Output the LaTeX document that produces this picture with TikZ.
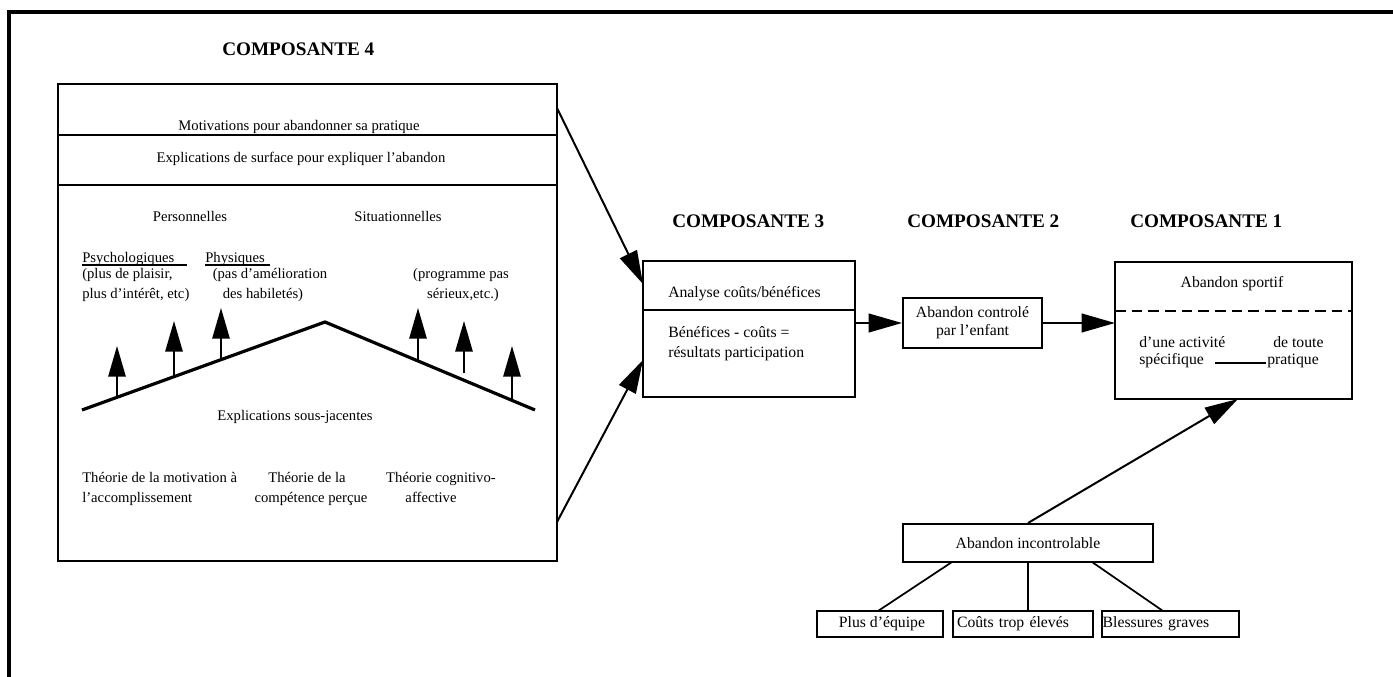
\documentclass[tikz,border=0pt]{standalone}
\usepackage{fontspec}
\setmainfont{Liberation Serif}
\usetikzlibrary{arrows.meta}
\begin{document}
\begin{tikzpicture}[x=0.75pt,y=-0.75pt,
  txt/.style={inner sep=0pt, font=\fontsize{11}{15}\selectfont},
  rtxt/.style={inner sep=0pt, font=\fontsize{11.8}{15}\selectfont},
  hdr/.style={inner sep=0pt, anchor=base west, font=\fontsize{14.4}{16}\selectfont\bfseries},
  box/.style={draw, line width=1.5pt, inner sep=0pt},
  bigarrow/.style={line width=1.5pt, -{Triangle[length=25pt,width=14pt]}},
  uparrow/.style={line width=1.4pt, -{Triangle[length=23pt,width=13pt]}},
  thin/.style={line width=1.3pt},
]
\useasboundingbox (0,0) rectangle (1393,677);
% frame
\draw[line width=2.6pt] (9,677) -- (9,12) -- (1393,12);

% headers
\node[hdr] (h4) at (222,56) {COMPOSANTE 4};
\node[hdr] (h3) at (672,228) {COMPOSANTE 3};
\node[hdr] (h2) at (907,228) {COMPOSANTE 2};
\node[hdr] (h1) at (1130,228) {COMPOSANTE 1};

% left panel (composante 4)
\node[box, minimum width=374.25pt, minimum height=357.75pt] (c4) at (307.5,322.5) {};
\draw[box] (58,135) -- (557,135);
\draw[box] (58,185) -- (557,185);
\node[txt, anchor=mid] (mot) at (299,127) {Motivations pour abandonner sa pratique};
\node[txt, anchor=mid] (surf) at (301,159) {Explications de surface pour expliquer l’abandon};
\node[txt, anchor=mid] (pers) at (190,218) {Personnelles};
\node[txt, anchor=mid] (sit) at (398,218) {Situationnelles};
\node[txt, anchor=mid west] (psy) at (82,259) {Psychologiques};
\draw[thin] (82,265) -- (187,265);
\node[txt, anchor=mid west] (phy) at (205,259) {Physiques};
\draw[thin] (205,265) -- (270,265);
\node[txt, anchor=mid west] (psy1) at (82,275) {(plus de plaisir,};
\node[txt, anchor=mid west] (psy2) at (82,295) {plus d’intérêt, etc)};
\node[txt, anchor=mid] (phy1) at (270,275) {(pas d’amélioration};
\node[txt, anchor=mid] (phy2) at (263,295) {des habiletés)};
\node[txt, anchor=mid] (sit1) at (461,275) {(programme pas};
\node[txt, anchor=mid] (sit2) at (463,295) {sérieux,etc.)};

% mountain
\coordinate (mL) at (82,410);
\coordinate (mP) at (325,322);
\coordinate (mR) at (535,410);
\draw[line width=2.4pt] (mL) -- (mP) -- (mR);
\coordinate (u1a) at (117,398); \coordinate (u1b) at (117,346);
\coordinate (u2a) at (174,377); \coordinate (u2b) at (174,321);
\coordinate (u3a) at (221,360); \coordinate (u3b) at (221,308);
\coordinate (u4a) at (418,362); \coordinate (u4b) at (418,308);
\coordinate (u5a) at (464,373); \coordinate (u5b) at (464,321);
\coordinate (u6a) at (512,400); \coordinate (u6b) at (512,346);
\foreach \i in {1,...,6} \draw[uparrow] (u\i a) -- (u\i b);

\node[txt, anchor=mid] (sous) at (295,417) {Explications sous-jacentes};
\node[txt, anchor=mid west] (t1a) at (82,479) {Théorie de la motivation à};
\node[txt, anchor=mid west] (t1b) at (82,499) {l’accomplissement};
\node[txt, anchor=mid] (t2a) at (307,479) {Théorie de la};
\node[txt, anchor=mid] (t2b) at (311,499) {compétence perçue};
\node[txt, anchor=mid] (t3a) at (441,479) {Théorie cognitivo-};
\node[txt, anchor=mid] (t3b) at (431,499) {affective};

% composante 3
\node[box, minimum width=159pt, minimum height=102pt] (c3) at (749,329) {};
\draw[box] (643,310) -- (855,310);
\node[rtxt, anchor=mid west] (ana) at (668,294) {Analyse coûts/bénéfices};
\node[rtxt, anchor=mid west] (ben1) at (668,334) {Bénéfices - coûts =};
\node[rtxt, anchor=mid west] (ben2) at (668,354) {résultats participation};

% arrows into composante 3
\coordinate (a1s) at (557,108);
\coordinate (a1e) at (643,284);
\coordinate (a2s) at (557,522);
\coordinate (a2e) at (643,360);
\draw[bigarrow] (a1s) -- (a1e);
\draw[bigarrow] (a2s) -- (a2e);

% composante 2
\node[box, minimum width=104.25pt, minimum height=37.5pt, align=center,
      font=\fontsize{11.8}{13.5}\selectfont] (c2) at (972.5,323) {Abandon controlé\\par l’enfant};
\coordinate (c3r) at (855,323);
\draw[bigarrow] (c3r) -- (c2.west);

% composante 1
\node[box, minimum width=177.75pt, minimum height=102.75pt] (c1) at (1233.5,330.5) {};
\draw[line width=1.4pt, dash pattern=on 8pt off 4.5pt] (1115,311) -- (1352,311);
\node[rtxt, anchor=mid] (asp) at (1232,284) {Abandon sportif};
\node[rtxt, anchor=mid west] (act1) at (1139,344) {d’une activité};
\node[rtxt, anchor=mid west] (act2) at (1139,361) {spécifique};
\node[rtxt, anchor=mid west] (tou1) at (1273,344) {de toute};
\node[rtxt, anchor=mid west] (tou2) at (1267,361) {pratique};
\coordinate (lk1) at (1215,363);
\coordinate (lk2) at (1266,363);
\draw[thin] (lk1) -- (lk2);
\coordinate (c1l) at (1115,323);
\draw[bigarrow] (c2.east) -- (c1l);

% abandon incontrolable
\node[box, minimum width=187.5pt, minimum height=28.5pt,
      font=\fontsize{11.8}{13.5}\selectfont] (inc) at (1028,543) {Abandon incontrolable};
\coordinate (c1t) at (1238,399);
\draw[bigarrow] (inc.north) -- (c1t);

\node[box, minimum width=94.5pt, minimum height=19.5pt,
      font=\fontsize{11.8}{13.5}\selectfont] (plus) at (880,624) {\hspace*{3pt}Plus d’équipe};
\node[box, minimum height=19.5pt, text width=99pt, inner xsep=3pt, align=left,
      font=\fontsize{11.8}{13.5}\selectfont] (cout) at (1023,624) {Coûts trop élevés};
\node[box, minimum height=19.5pt, text width=101.75pt, inner xsep=0.5pt, align=left,
      font=\fontsize{11.8}{13.5}\selectfont] (bles) at (1170.5,624) {Blessures graves};
\coordinate (i1) at (952,562);
\coordinate (p1) at (878,611);
\coordinate (i3) at (1092,562);
\coordinate (b1) at (1163,611);
\draw[thin] (i1) -- (p1);
\draw[thin] (inc.south) -- (inc.south |- cout.north);
\draw[thin] (i3) -- (b1);
\end{tikzpicture}
\end{document}
